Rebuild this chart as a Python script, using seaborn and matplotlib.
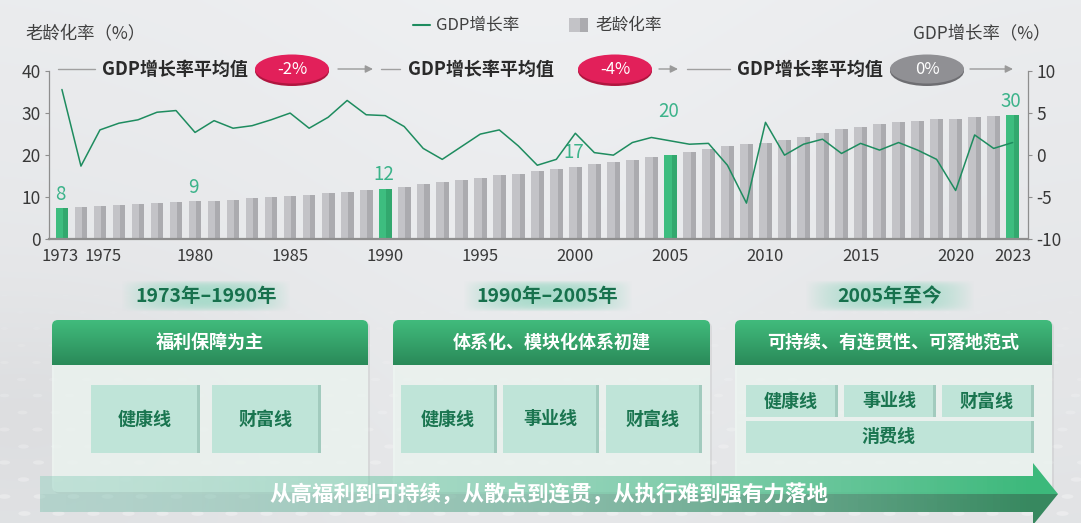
import numpy as np
import pandas as pd
import matplotlib
matplotlib.use("Agg")
import matplotlib.pyplot as plt
import matplotlib.transforms as mtransforms
import seaborn as sns
from matplotlib.patches import FancyBboxPatch, Rectangle, Polygon, Ellipse
from matplotlib.colors import to_rgb

# ---------------- data ----------------
years = list(range(1973, 2024))
aging = [7.4, 7.7, 7.9, 8.1, 8.4, 8.6, 8.9, 9.0, 9.2, 9.4,
         9.7, 10.1, 10.3, 10.6, 10.9, 11.3, 11.6, 12.0, 12.5, 13.1,
         13.5, 14.1, 14.6, 15.2, 15.6, 16.2, 16.8, 17.3, 18.0, 18.4,
         18.9, 19.5, 20.1, 20.8, 21.5, 22.1, 22.6, 23.0, 23.5, 24.4,
         25.2, 26.1, 26.8, 27.3, 27.8, 28.2, 28.5, 28.7, 29.1, 29.2,
         29.5]
gdp = [7.8, -1.3, 3.0, 3.8, 4.2, 5.1, 5.3, 2.7, 4.1, 3.2,
       3.5, 4.2, 5.0, 3.2, 4.5, 6.5, 4.8, 4.7, 3.4, 0.8,
       -0.5, 1.0, 2.5, 3.0, 1.1, -1.2, -0.5, 2.6, 0.3, 0.0,
       1.5, 2.1, 1.7, 1.3, 1.4, -1.2, -5.7, 3.9, 0.0, 1.3,
       1.9, 0.2, 1.4, 0.6, 1.5, 0.6, -0.5, -4.2, 2.4, 0.8,
       1.5]
highlight_years = [1973, 1990, 2005, 2023]
label_years = [1973, 1980, 1990, 2000, 2005, 2023]
label_texts = ["8", "9", "12", "17", "20", "30"]
xtick_years = [1973, 1975, 1980, 1985, 1990, 1995, 2000, 2005, 2010, 2015, 2020, 2023]
left_ticks = [0, 10, 20, 30, 40]
right_ticks = [-10, -5, 0, 5, 10]

legend_gdp = "GDP增长率"
legend_aging = "老龄化率"
left_title = "老龄化率（%）"
right_title = "GDP增长率（%）"
avg_label = "GDP增长率平均值"
avg_values = ["-2%", "-4%", "0%"]
periods = ["1973年–1990年", "1990年–2005年", "2005年至今"]
stages = ["福利保障为主", "体系化、模块化体系初建", "可持续、有连贯性、可落地范式"]
stage_lines = [["健康线", "财富线"],
               ["健康线", "事业线", "财富线"],
               ["健康线", "事业线", "财富线", "消费线"]]
bottom_text = "从高福利到可持续，从散点到连贯，从执行难到强有力落地"

# ---------------- style ----------------
sns.set_theme(style="white")
plt.rcParams["font.family"] = ["Noto Sans CJK SC", "DejaVu Sans"]
plt.rcParams["axes.unicode_minus"] = False

GRAY_L, GRAY_D = "#c3c3c7", "#ababaf"
GREEN_L, GREEN_D = "#3dbd7f", "#32a86e"
LINE_C = "#1e8c5f"
LABEL_C = "#3cb38a"
TXT = "#383838"
AX_C = "#8e8e8e"

W, H = 1081, 523
fig = plt.figure(figsize=(W / 100, H / 100), dpi=100)

# background
bg = fig.add_axes([0, 0, 1, 1], zorder=0)
yy, xx = np.mgrid[0:1:260j, 0:1:540j]
val = 0.925 - 0.035 * yy - 0.025 * np.exp(-((xx - 0.03) ** 2 + (yy - 0.78) ** 2) / 0.04) \
      + 0.015 * np.exp(-((xx - 0.5) ** 2) / 0.08)
img = np.dstack([val - 0.005, val, val + 0.008])
bg.imshow(np.clip(img, 0, 1), extent=[0, 1, 0, 1], aspect="auto", origin="upper")
# faint dotted floor pattern
t = np.linspace(0, 2 * np.pi, 24)
dot_marker = np.column_stack([2.6 * np.cos(t), np.sin(t)])
for j in range(14):
    yf = 0.02 + j * 0.032
    sz = 70 * (1 - j / 16) + 8
    xs = np.arange(-0.01, 1.02, 0.028 + 0.004 * (1 - j / 14)) + (j % 2) * 0.014
    bg.scatter(xs, np.full_like(xs, yf), s=sz, marker=dot_marker, color="white",
               alpha=0.32 * (1 - j / 15), linewidths=0)
bg.set_xlim(0, 1)
bg.set_ylim(0, 1)
bg.axis("off")

# ---------------- chart ----------------
df = pd.DataFrame({"year": years, "aging": aging, "gdp": gdp})
ax = fig.add_axes([49 / W, 1 - 239.3 / H, (1027.7 - 49) / W, (239.3 - 71) / H], zorder=1)
ax.patch.set_alpha(0)
sns.barplot(data=df, x="year", y="aging", native_scale=True, color=GRAY_L,
            width=0.67, saturation=1, errorbar=None, ax=ax)
bars = sorted(ax.patches, key=lambda p: p.get_x())
for p, yr in zip(bars, years):
    hl = yr in highlight_years
    p.set_facecolor(GREEN_L if hl else GRAY_L)
    p.set_edgecolor("none")
    x0, w, h = p.get_x(), p.get_width(), p.get_height()
    ax.add_patch(Rectangle((x0 + 0.6 * w, 0), 0.4 * w, h,
                           facecolor=GREEN_D if hl else GRAY_D, edgecolor="none", zorder=2.1))

label_raise = {2005: 21}
for yr, tx in zip(label_years, label_texts):
    v = aging[years.index(yr)]
    ax.annotate(tx, (yr, v), xytext=(-1, 10 + label_raise.get(yr, 0)), textcoords="offset points",
                ha="center", va="center", fontsize=13.5, color=LABEL_C, zorder=5)

ax.set_ylim(0, 40)
ax.set_yticks(left_ticks)
ax.set_xticks(xtick_years)
ax.set_xticklabels([str(y) for y in xtick_years])
ax.set_xlabel("")
ax.set_ylabel("")
for s in ["top", "right"]:
    ax.spines[s].set_visible(False)
ax.spines["left"].set_color(AX_C)
ax.spines["left"].set_linewidth(0.9)
ax.spines["bottom"].set_color(AX_C)
ax.spines["bottom"].set_linewidth(1.6)
ax.tick_params(axis="y", length=3, width=0.8, color=AX_C, labelsize=12.5, labelcolor=TXT, pad=3, left=True)
ax.tick_params(axis="x", length=0, labelsize=12, labelcolor=TXT, pad=6)
# nudge the first two crowded year labels apart
xl = ax.get_xticklabels()
xl[0].set_transform(xl[0].get_transform() + mtransforms.ScaledTranslation(-2 / 100, 0, fig.dpi_scale_trans))
xl[1].set_transform(xl[1].get_transform() + mtransforms.ScaledTranslation(3 / 100, 0, fig.dpi_scale_trans))

ax2 = ax.twinx()
sns.lineplot(data=df, x="year", y="gdp", ax=ax2, color=LINE_C, lw=1.1, zorder=4)
ax2.set_ylim(-10, 10)
ax2.set_yticks(right_ticks)
ax2.set_yticklabels([str(v) for v in right_ticks])
ax2.set_ylabel("")
ax2.set_xlabel("")
for s in ["top", "left", "bottom"]:
    ax2.spines[s].set_visible(False)
ax2.spines["right"].set_color(AX_C)
ax2.spines["right"].set_linewidth(0.9)
ax2.tick_params(axis="y", length=3, width=0.8, color=AX_C, labelsize=12.5, labelcolor=TXT, pad=3, right=True)
ax.set_xlim(1972.32, 2023.79)

# ---------------- overlay (pixel coords) ----------------
ov = fig.add_axes([0, 0, 1, 1], zorder=3)
ov.patch.set_alpha(0)
ov.set_xlim(0, W)
ov.set_ylim(H, 0)
ov.axis("off")

# titles & legend
ov.text(25, 33, left_title, fontsize=12.5, color="#404040", va="center", ha="left")
ov.text(1050, 33, right_title, fontsize=12.5, color="#404040", va="center", ha="right")
ov.plot([413, 430], [25, 25], color=LINE_C, lw=1.5)
ov.text(436, 25, legend_gdp, fontsize=12, color="#404040", va="center", ha="left")
ov.add_patch(Rectangle((569, 18), 11, 14, facecolor=GRAY_L, edgecolor="none"))
ov.add_patch(Rectangle((580, 18), 8, 14, facecolor=GRAY_D, edgecolor="none"))
ov.text(595, 25, legend_aging, fontsize=12, color="#404040", va="center", ha="left")

# average row
row_y = 69
groups = [dict(line=(58, 95), tx=102, ex=292, arr=(338, 373), fc="#e2205a", sh="#b0163f"),
          dict(line=(381, 400), tx=408, ex=615, arr=(659, 678), fc="#e2205a", sh="#b0163f"),
          dict(line=(687, 730), tx=737, ex=927, arr=(970, 1013), fc="#909094", sh="#6e6e72")]
for g, val_t in zip(groups, avg_values):
    ov.plot(list(g["line"]), [row_y, row_y], color="#a0a0a0", lw=1)
    ov.text(g["tx"], row_y, avg_label, fontsize=13, fontweight="bold", color="#2a2a2a",
            va="center", ha="left")
    ov.add_patch(Ellipse((g["ex"], row_y + 2), 74, 30, facecolor=g["sh"], edgecolor="none"))
    ov.add_patch(Ellipse((g["ex"], row_y), 74, 29, facecolor=g["fc"], edgecolor="none"))
    ov.text(g["ex"], row_y, val_t, fontsize=12, color="white", va="center", ha="center")
    ov.annotate("", xy=(g["arr"][1], row_y), xytext=(g["arr"][0], row_y),
                arrowprops=dict(arrowstyle="-|>", color="#9a9a9a", lw=1, mutation_scale=11,
                                shrinkA=0, shrinkB=0))

# panels
panel_x = [(52, 368), (393, 710), (735, 1052)]
box_layout = [
    [(91, 200, 385, 453), (212, 321, 385, 453)],
    [(401, 497, 385, 453), (503, 599, 385, 453), (606, 702, 385, 453)],
    [(746, 838, 385, 417), (844, 936, 385, 417), (942, 1034, 385, 417), (746, 1034, 421, 453)],
]
hdr_top, hdr_bot = 320, 365
grad = np.linspace(0, 1, 60)[:, None]
c_top, c_bot = np.array(to_rgb("#41bb7c")), np.array(to_rgb("#2a8a59"))
hdr_img = (c_top[None, None, :] * (1 - grad[..., None]) + c_bot[None, None, :] * grad[..., None])
hdr_img = np.repeat(hdr_img, 4, axis=1)

glow_u = np.linspace(-1, 1, 200)
glow_v = np.linspace(-1, 1, 40)
ga = (1 - np.abs(glow_u)[None, :] ** 2.2) * (1 - np.abs(glow_v)[:, None] ** 4)
glow = np.zeros((40, 200, 4))
glow[..., :3] = to_rgb("#9fd9c6")
glow[..., 3] = 0.85 * ga

for (x0, x1), per, stg, lines, boxes in zip(panel_x, periods, stages, stage_lines, box_layout):
    cx = (x0 + x1) / 2
    # period label with glow
    ov.imshow(glow, extent=[cx - 89, cx + 81, 312, 280], aspect="auto", zorder=2)
    ov.text(cx - 4, 296, per, fontsize=14, fontweight="bold", color="#17714d",
            ha="center", va="center", zorder=3)
    # body
    ov.add_patch(FancyBboxPatch((x0 + 2, hdr_top + 2), x1 - x0, 172,
                                boxstyle="round,pad=0,rounding_size=6",
                                facecolor="#9a9a9a", alpha=0.18, edgecolor="none", zorder=2))
    ov.add_patch(FancyBboxPatch((x0, hdr_top), x1 - x0, 172,
                                boxstyle="round,pad=0,rounding_size=6",
                                facecolor="#eef6f2", alpha=0.82, edgecolor="none", zorder=2))
    # header
    clip = FancyBboxPatch((x0, hdr_top), x1 - x0, 60, boxstyle="round,pad=0,rounding_size=6",
                          transform=ov.transData)
    im = ov.imshow(hdr_img, extent=[x0, x1, hdr_bot, hdr_top], aspect="auto", zorder=3)
    im.set_clip_path(clip)
    ov.text(cx, (hdr_top + hdr_bot) / 2, stg, fontsize=13, fontweight="bold", color="white",
            ha="center", va="center", zorder=4)
    # inner boxes
    for name, (bx0, bx1, by0, by1) in zip(lines, boxes):
        ov.add_patch(Rectangle((bx0, by0), bx1 - bx0, by1 - by0, facecolor="#bfe4d8",
                               edgecolor="none", zorder=3))
        ov.add_patch(Rectangle((bx1 - 3, by0), 3, by1 - by0, facecolor="#a2cbbe",
                               edgecolor="none", zorder=3))
        ov.text((bx0 + bx1) / 2 - 1, (by0 + by1) / 2, name, fontsize=13, color="#1a7550",
                fontweight="bold", ha="center", va="center", zorder=4)

# bottom arrow band
band_x0, band_x1 = 40, 1033
band_t, band_m, band_b = 476, 494, 512
u = np.linspace(0, 1, 300)[None, :]
def band_img(c_left, c_right, a_left, a_right):
    cl, cr = np.array(to_rgb(c_left)), np.array(to_rgb(c_right))
    tt = u ** 1.3
    arr = np.zeros((2, 300, 4))
    arr[..., :3] = (cl[None, None, :] * (1 - tt[..., None]) + cr[None, None, :] * tt[..., None])
    arr[..., 3] = a_left + (a_right - a_left) * tt
    return arr
ov.imshow(band_img("#8fd0bd", "#3cb97b", 0.45, 1.0),
          extent=[band_x0, band_x1, band_m, band_t], aspect="auto", zorder=5)
ov.imshow(band_img("#7fc2b0", "#37885f", 0.45, 1.0),
          extent=[band_x0, band_x1, band_b, band_m], aspect="auto", zorder=5)
ov.add_patch(Polygon([(band_x1, 463), (1058, band_m), (band_x1, band_m)],
                     closed=True, facecolor="#3cb97b", edgecolor="none", zorder=5))
ov.add_patch(Polygon([(band_x1, band_m), (1058, band_m), (band_x1, 525)],
                     closed=True, facecolor="#37885f", edgecolor="none", zorder=5))
ov.text(549, band_m, bottom_text, fontsize=15.5, fontweight="bold", color="white",
        ha="center", va="center", zorder=6)

ov.set_xlim(0, W)
ov.set_ylim(H, 0)

fig.savefig("out.png", dpi=100)
